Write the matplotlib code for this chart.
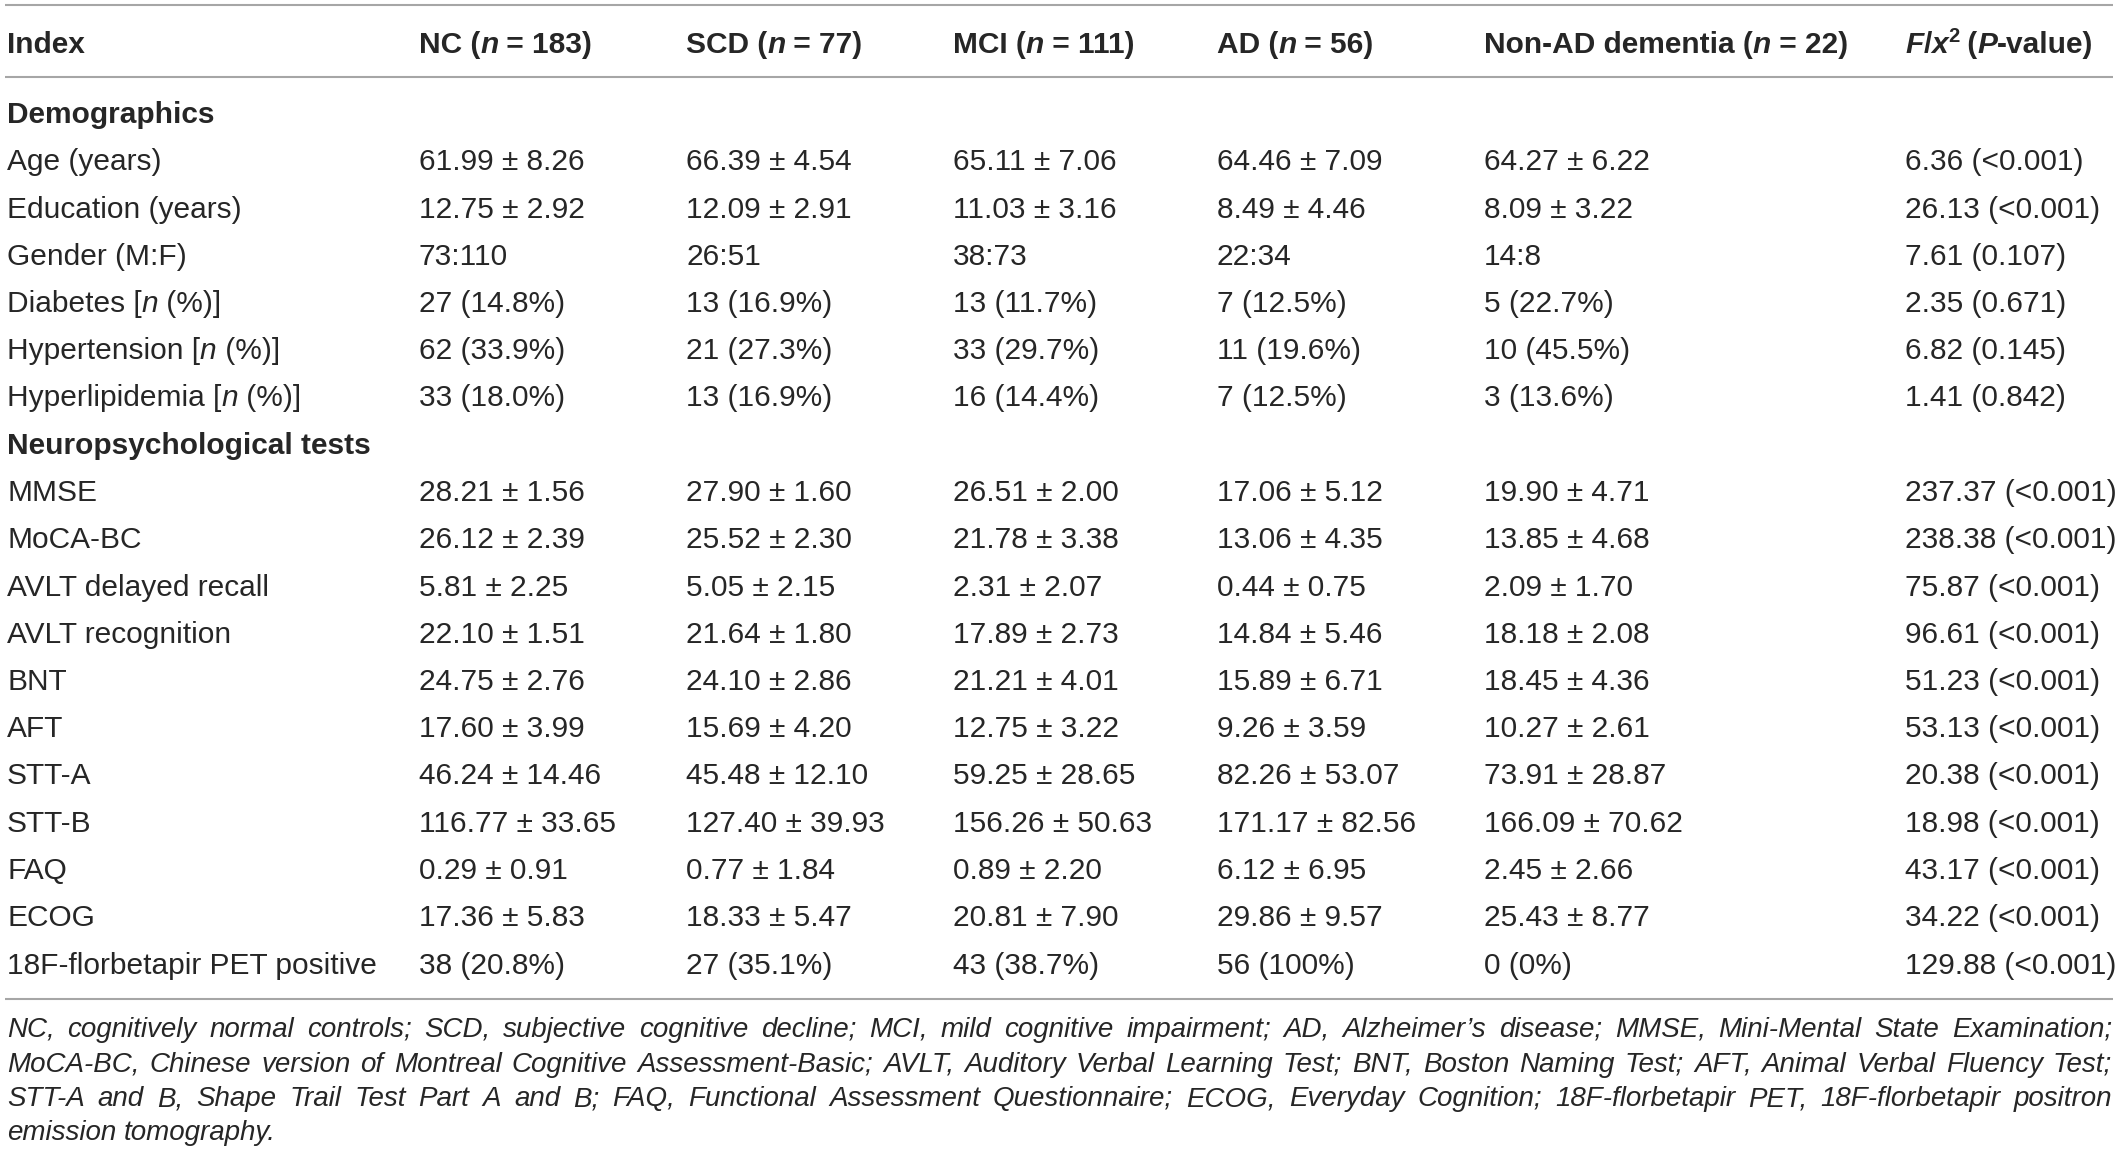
#table of baseline characteristics drawn as text on a blank figure
import matplotlib
matplotlib.use('Agg')
import matplotlib.pyplot as plt

#data ----------------------------------------------
# _ toggles italic, ^ toggles superscript
col_headers = ["Index", "NC (_n_ = 183)", "SCD (_n_ = 77)", "MCI (_n_ = 111)",
               "AD (_n_ = 56)", "Non-AD dementia (_n_ = 22)", "_F_/_x_^2^ (_P_-value)"]

sections = ["Demographics", "Neuropsychological tests"]

demo_labels = ["Age (years)", "Education (years)", "Gender (M:F)", "Diabetes [_n_ (%)]",
               "Hypertension [_n_ (%)]", "Hyperlipidemia [_n_ (%)]"]
neuro_labels = ["MMSE", "MoCA-BC", "AVLT delayed recall", "AVLT recognition", "BNT", "AFT",
                "STT-A", "STT-B", "FAQ", "ECOG", "18F-florbetapir PET positive"]

nc = ["61.99 ± 8.26", "12.75 ± 2.92", "73:110", "27 (14.8%)", "62 (33.9%)", "33 (18.0%)",
      "28.21 ± 1.56", "26.12 ± 2.39", "5.81 ± 2.25", "22.10 ± 1.51", "24.75 ± 2.76",
      "17.60 ± 3.99", "46.24 ± 14.46", "116.77 ± 33.65", "0.29 ± 0.91", "17.36 ± 5.83",
      "38 (20.8%)"]
scd = ["66.39 ± 4.54", "12.09 ± 2.91", "26:51", "13 (16.9%)", "21 (27.3%)", "13 (16.9%)",
       "27.90 ± 1.60", "25.52 ± 2.30", "5.05 ± 2.15", "21.64 ± 1.80", "24.10 ± 2.86",
       "15.69 ± 4.20", "45.48 ± 12.10", "127.40 ± 39.93", "0.77 ± 1.84", "18.33 ± 5.47",
       "27 (35.1%)"]
mci = ["65.11 ± 7.06", "11.03 ± 3.16", "38:73", "13 (11.7%)", "33 (29.7%)", "16 (14.4%)",
       "26.51 ± 2.00", "21.78 ± 3.38", "2.31 ± 2.07", "17.89 ± 2.73", "21.21 ± 4.01",
       "12.75 ± 3.22", "59.25 ± 28.65", "156.26 ± 50.63", "0.89 ± 2.20", "20.81 ± 7.90",
       "43 (38.7%)"]
ad = ["64.46 ± 7.09", "8.49 ± 4.46", "22:34", "7 (12.5%)", "11 (19.6%)", "7 (12.5%)",
      "17.06 ± 5.12", "13.06 ± 4.35", "0.44 ± 0.75", "14.84 ± 5.46", "15.89 ± 6.71",
      "9.26 ± 3.59", "82.26 ± 53.07", "171.17 ± 82.56", "6.12 ± 6.95", "29.86 ± 9.57",
      "56 (100%)"]
nonad = ["64.27 ± 6.22", "8.09 ± 3.22", "14:8", "5 (22.7%)", "10 (45.5%)", "3 (13.6%)",
         "19.90 ± 4.71", "13.85 ± 4.68", "2.09 ± 1.70", "18.18 ± 2.08", "18.45 ± 4.36",
         "10.27 ± 2.61", "73.91 ± 28.87", "166.09 ± 70.62", "2.45 ± 2.66", "25.43 ± 8.77",
         "0 (0%)"]
stat = ["6.36 (<0.001)", "26.13 (<0.001)", "7.61 (0.107)", "2.35 (0.671)", "6.82 (0.145)",
        "1.41 (0.842)", "237.37 (<0.001)", "238.38 (<0.001)", "75.87 (<0.001)",
        "96.61 (<0.001)", "51.23 (<0.001)", "53.13 (<0.001)", "20.38 (<0.001)",
        "18.98 (<0.001)", "43.17 (<0.001)", "34.22 (<0.001)", "129.88 (<0.001)"]

footnote = ["NC, cognitively normal controls; SCD, subjective cognitive decline; MCI, mild cognitive impairment; AD, Alzheimer\u2019s disease; MMSE, Mini-Mental State Examination;",
            "MoCA-BC, Chinese version of Montreal Cognitive Assessment-Basic; AVLT, Auditory Verbal Learning Test; BNT, Boston Naming Test; AFT, Animal Verbal Fluency Test;",
            "STT-A and B, Shape Trail Test Part A and B; FAQ, Functional Assessment Questionnaire; ECOG, Everyday Cognition; 18F-florbetapir PET, 18F-florbetapir positron",
            "emission tomography."]

#layout (pixels) -----------------------------------
W, H = 2118, 1160
col_x = [7, 419, 686, 953, 1217, 1484, 1905]
font = ['Liberation Sans', 'DejaVu Sans']
fs = 21.5
fs_note = 20
txt_color = '#262626'
line_color = '#a6a6a6'

fig = plt.figure(figsize=(W/100.0, H/100.0), dpi=100)
ax = fig.add_axes([0, 0, 1, 1])
ax.set_xlim(0, W)
ax.set_ylim(H, 0)
ax.axis('off')
r = fig.canvas.get_renderer()

def text_width(s, **kw):
    #bar trick so trailing spaces are counted
    t = ax.text(0, 0, s + '|', **kw)
    w1 = t.get_window_extent(r).width
    t.remove()
    t = ax.text(0, 0, '|', **kw)
    w2 = t.get_window_extent(r).width
    t.remove()
    return w1 - w2

def parse(s):
    runs, cur, ital, sup = [], '', False, False
    for ch in s:
        if ch in '_^':
            if cur:
                runs.append((cur, ital, sup))
            cur = ''
            if ch == '_':
                ital = not ital
            else:
                sup = not sup
        else:
            cur += ch
    if cur:
        runs.append((cur, ital, sup))
    return runs

def draw_runs(x, y, s, weight='normal', size=fs):
    for seg, ital, sup in parse(s):
        kw = dict(family=font, weight=weight, style='italic' if ital else 'normal',
                  size=size*0.68 if sup else size, color=txt_color)
        yy = y - 11 if sup else y
        ax.text(x, yy, seg, va='baseline', ha='left', **kw)
        x += text_width(seg, **kw)

#rules
for yl in [5, 77, 999]:
    ax.plot([5, 2113], [yl, yl], color=line_color, lw=1.5, solid_capstyle='butt')

#header
for cx, h in zip(col_x, col_headers):
    draw_runs(cx, 53, h, weight='bold')

#body rows
row0 = 112
dy = 47.25
columns = [nc, scd, mci, ad, nonad, stat]
k = 0
for sec, labels, start in [(sections[0], demo_labels, 0), (sections[1], neuro_labels, len(demo_labels))]:
    draw_runs(col_x[0], row0 + k*dy + 11, sec, weight='bold')
    k += 1
    for i, lab in enumerate(labels):
        yb = row0 + k*dy + 11
        draw_runs(col_x[0], yb, lab)
        for cx, col in zip(col_x[1:], columns):
            draw_runs(cx, yb, col[start + i])
        k += 1

#footnote, justified except last line
note_kw = dict(family=font, style='italic', size=fs_note, color=txt_color)
note_base = [1037, 1071.5, 1106, 1140.5]
x0, x1 = 7, 2112
for j, line in enumerate(footnote):
    words = line.split(' ')
    ws = [text_width(w, **note_kw) for w in words]
    if j < len(footnote) - 1 and len(words) > 1:
        gap = (x1 - x0 - sum(ws)) / (len(words) - 1)
    else:
        gap = text_width(' ', **note_kw)
    xc = x0
    for w, wd in zip(words, ws):
        ax.text(xc, note_base[j], w, va='baseline', ha='left', **note_kw)
        xc += wd + gap

fig.savefig('out.png', dpi=100, facecolor='white')
